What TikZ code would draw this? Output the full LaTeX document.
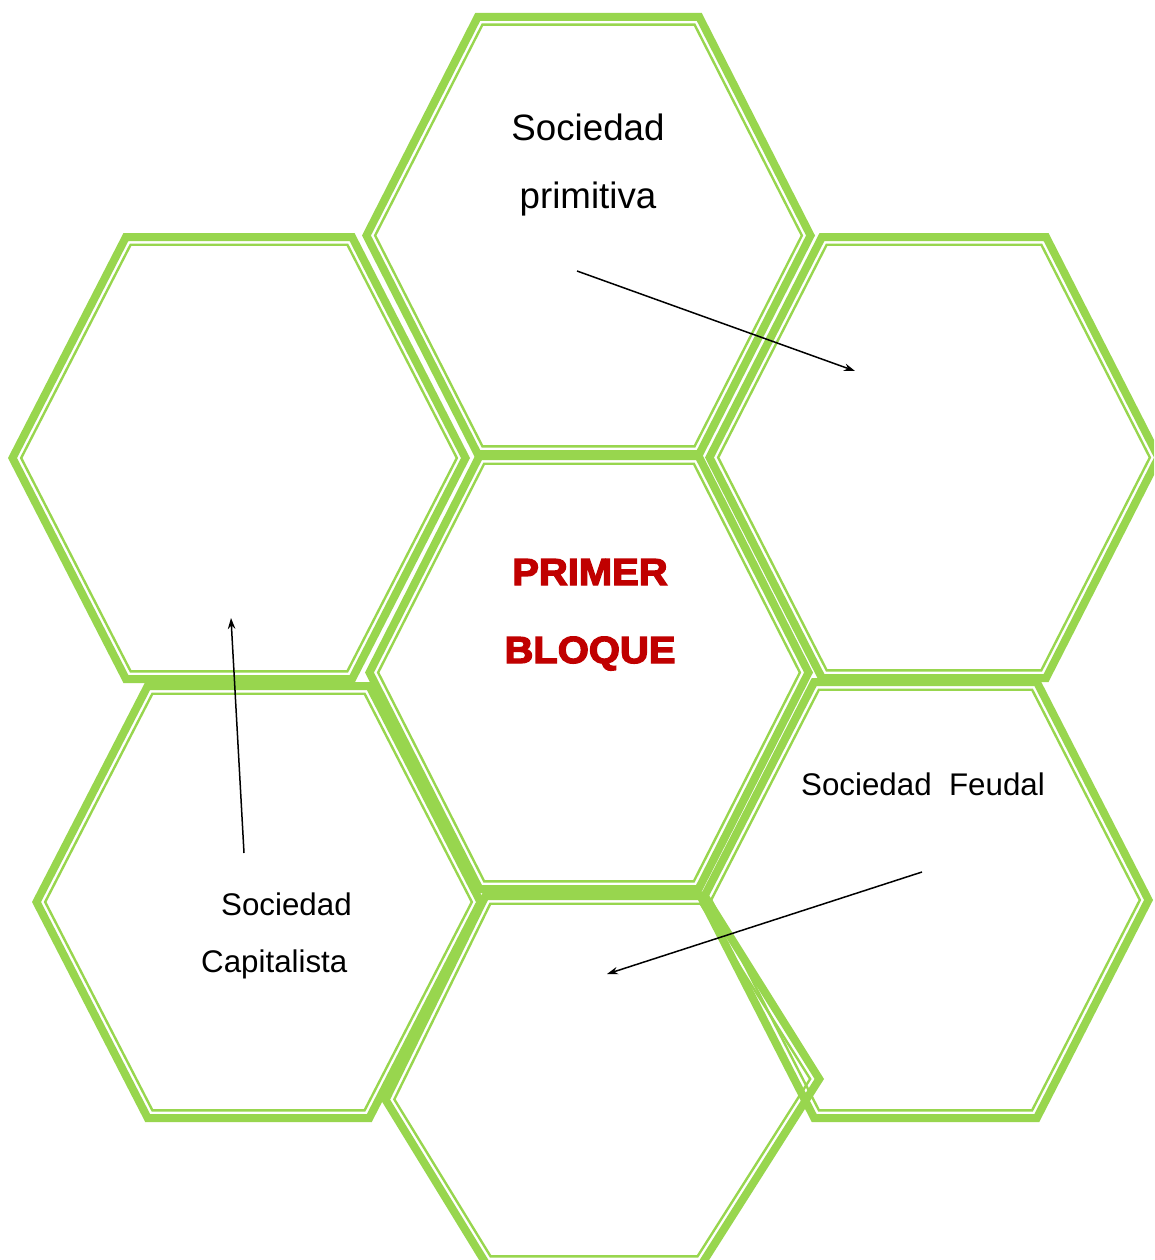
\documentclass[tikz,border=0pt]{standalone}
\usepackage{fontspec}
\setmainfont{Liberation Sans}
\newfontfamily\blockfont[FakeBold=3.5,FakeStretch=1.06]{Liberation Sans Bold}
\usetikzlibrary{arrows.meta,calc}
\definecolor{hexgreen}{RGB}{152,214,78}
\definecolor{blockred}{RGB}{192,0,0}
\tikzset{
  hexthick/.style={draw=hexgreen,line width=8pt,line join=miter},
  hexthin/.style={draw=hexgreen,line width=2.4pt,line join=miter},
  biglabel/.style={font=\fontsize{36.7}{44}\selectfont,anchor=base,inner sep=0pt},
  smalllabel/.style={font=\fontsize{31.3}{37}\selectfont,anchor=base west,inner sep=0pt},
  blocklabel/.style={font=\blockfont\fontsize{37.7}{45}\selectfont,text=blockred,anchor=base,inner sep=0pt},
  conn/.style={line width=1.5pt,-{Stealth[length=11pt,width=7.5pt]}}
}
% inset point of vertex #2 (prev #1, next #3) of a counterclockwise polygon by #4 pt
\newcommand\insetpt[5]{%
  \path let \p1=(#1), \p2=(#2), \p3=(#3),
    \n1={atan2(\y2-\y1,\x2-\x1)}, \n2={atan2(\y3-\y2,\x3-\x2)},
    \n3={mod(\n2-\n1+720,360)} in
    ($(\p2)+({\n1+\n3/2+90}:{#4pt/cos(\n3/2)})$) coordinate (#5);
}
\newcommand\insethex[3]{%
  \insetpt{#16}{#11}{#12}{#3}{#21}%
  \insetpt{#11}{#12}{#13}{#3}{#22}%
  \insetpt{#12}{#13}{#14}{#3}{#23}%
  \insetpt{#13}{#14}{#15}{#3}{#24}%
  \insetpt{#14}{#15}{#16}{#3}{#25}%
  \insetpt{#15}{#16}{#11}{#3}{#26}%
}
% hexagon with thick outer and thin inner line, outer vertices given (ccw)
\newcommand\hexgon[7]{%
  \coordinate (#1v1) at #2; \coordinate (#1v2) at #3; \coordinate (#1v3) at #4;
  \coordinate (#1v4) at #5; \coordinate (#1v5) at #6; \coordinate (#1v6) at #7;
  \insethex{#1v}{#1k}{4}
  \insethex{#1v}{#1n}{11.7}
  \draw[hexthick] (#1k1)--(#1k2)--(#1k3)--(#1k4)--(#1k5)--(#1k6)--cycle;
  \draw[hexthin] (#1n1)--(#1n2)--(#1n3)--(#1n4)--(#1n5)--(#1n6)--cycle;
}
% name, x left, x right, y top, y bottom
\newcommand\hexreg[5]{%
  \hexgon{#1}{(#2,{(#4+#5)/2})}{({0.75*#2+0.25*#3},#5)}{({0.25*#2+0.75*#3},#5)}%
    {(#3,{(#4+#5)/2})}{({0.25*#2+0.75*#3},#4)}{({0.75*#2+0.25*#3},#4)}%
}
\begin{document}
\begin{tikzpicture}[x=1pt,y=-1pt]
\useasboundingbox (0,0) rectangle (1154,1260);
\clip (0,0) rectangle (1154,1260);
\fill[white] (0,0) rectangle (1154,1260);
\hexreg{T}{362}{815}{13}{458}
\hexreg{L}{8}{470}{233}{683}
\hexreg{R}{705}{1163}{233}{682}
\hexreg{C}{365}{813}{452}{893}
\hexreg{P}{32}{485}{682}{1122}
\hexreg{Q}{698}{1153}{678}{1122}
\hexgon{B}{(381,1100)}{(484,1268)}{(704,1268)}{(824,1079)}{(707,892)}{(483,892)}
% texts
\node[biglabel] (prim1) at (588,141) {Sociedad};
\node[biglabel] (prim2) at (588,208) {primitiva};
\node[blocklabel] (blk1) at (590,585) {PRIMER};
\node[blocklabel] (blk2) at (590,663) {BLOQUE};
\node[smalllabel] (feud) at (801,795) {Sociedad\ \ Feudal};
\node[smalllabel] (cap1) at (221,915) {Sociedad};
\node[smalllabel] (cap2) at (201,972) {Capitalista};
% connectors
\coordinate (a1s) at (577,271); \coordinate (a1e) at (855,371);
\coordinate (a2s) at (922,872); \coordinate (a2e) at (607,974);
\coordinate (a3s) at (244,853); \coordinate (a3e) at (231,618);
\draw[conn] (a1s) -- (a1e);
\draw[conn] (a2s) -- (a2e);
\draw[conn] (a3s) -- (a3e);
\end{tikzpicture}
\end{document}
